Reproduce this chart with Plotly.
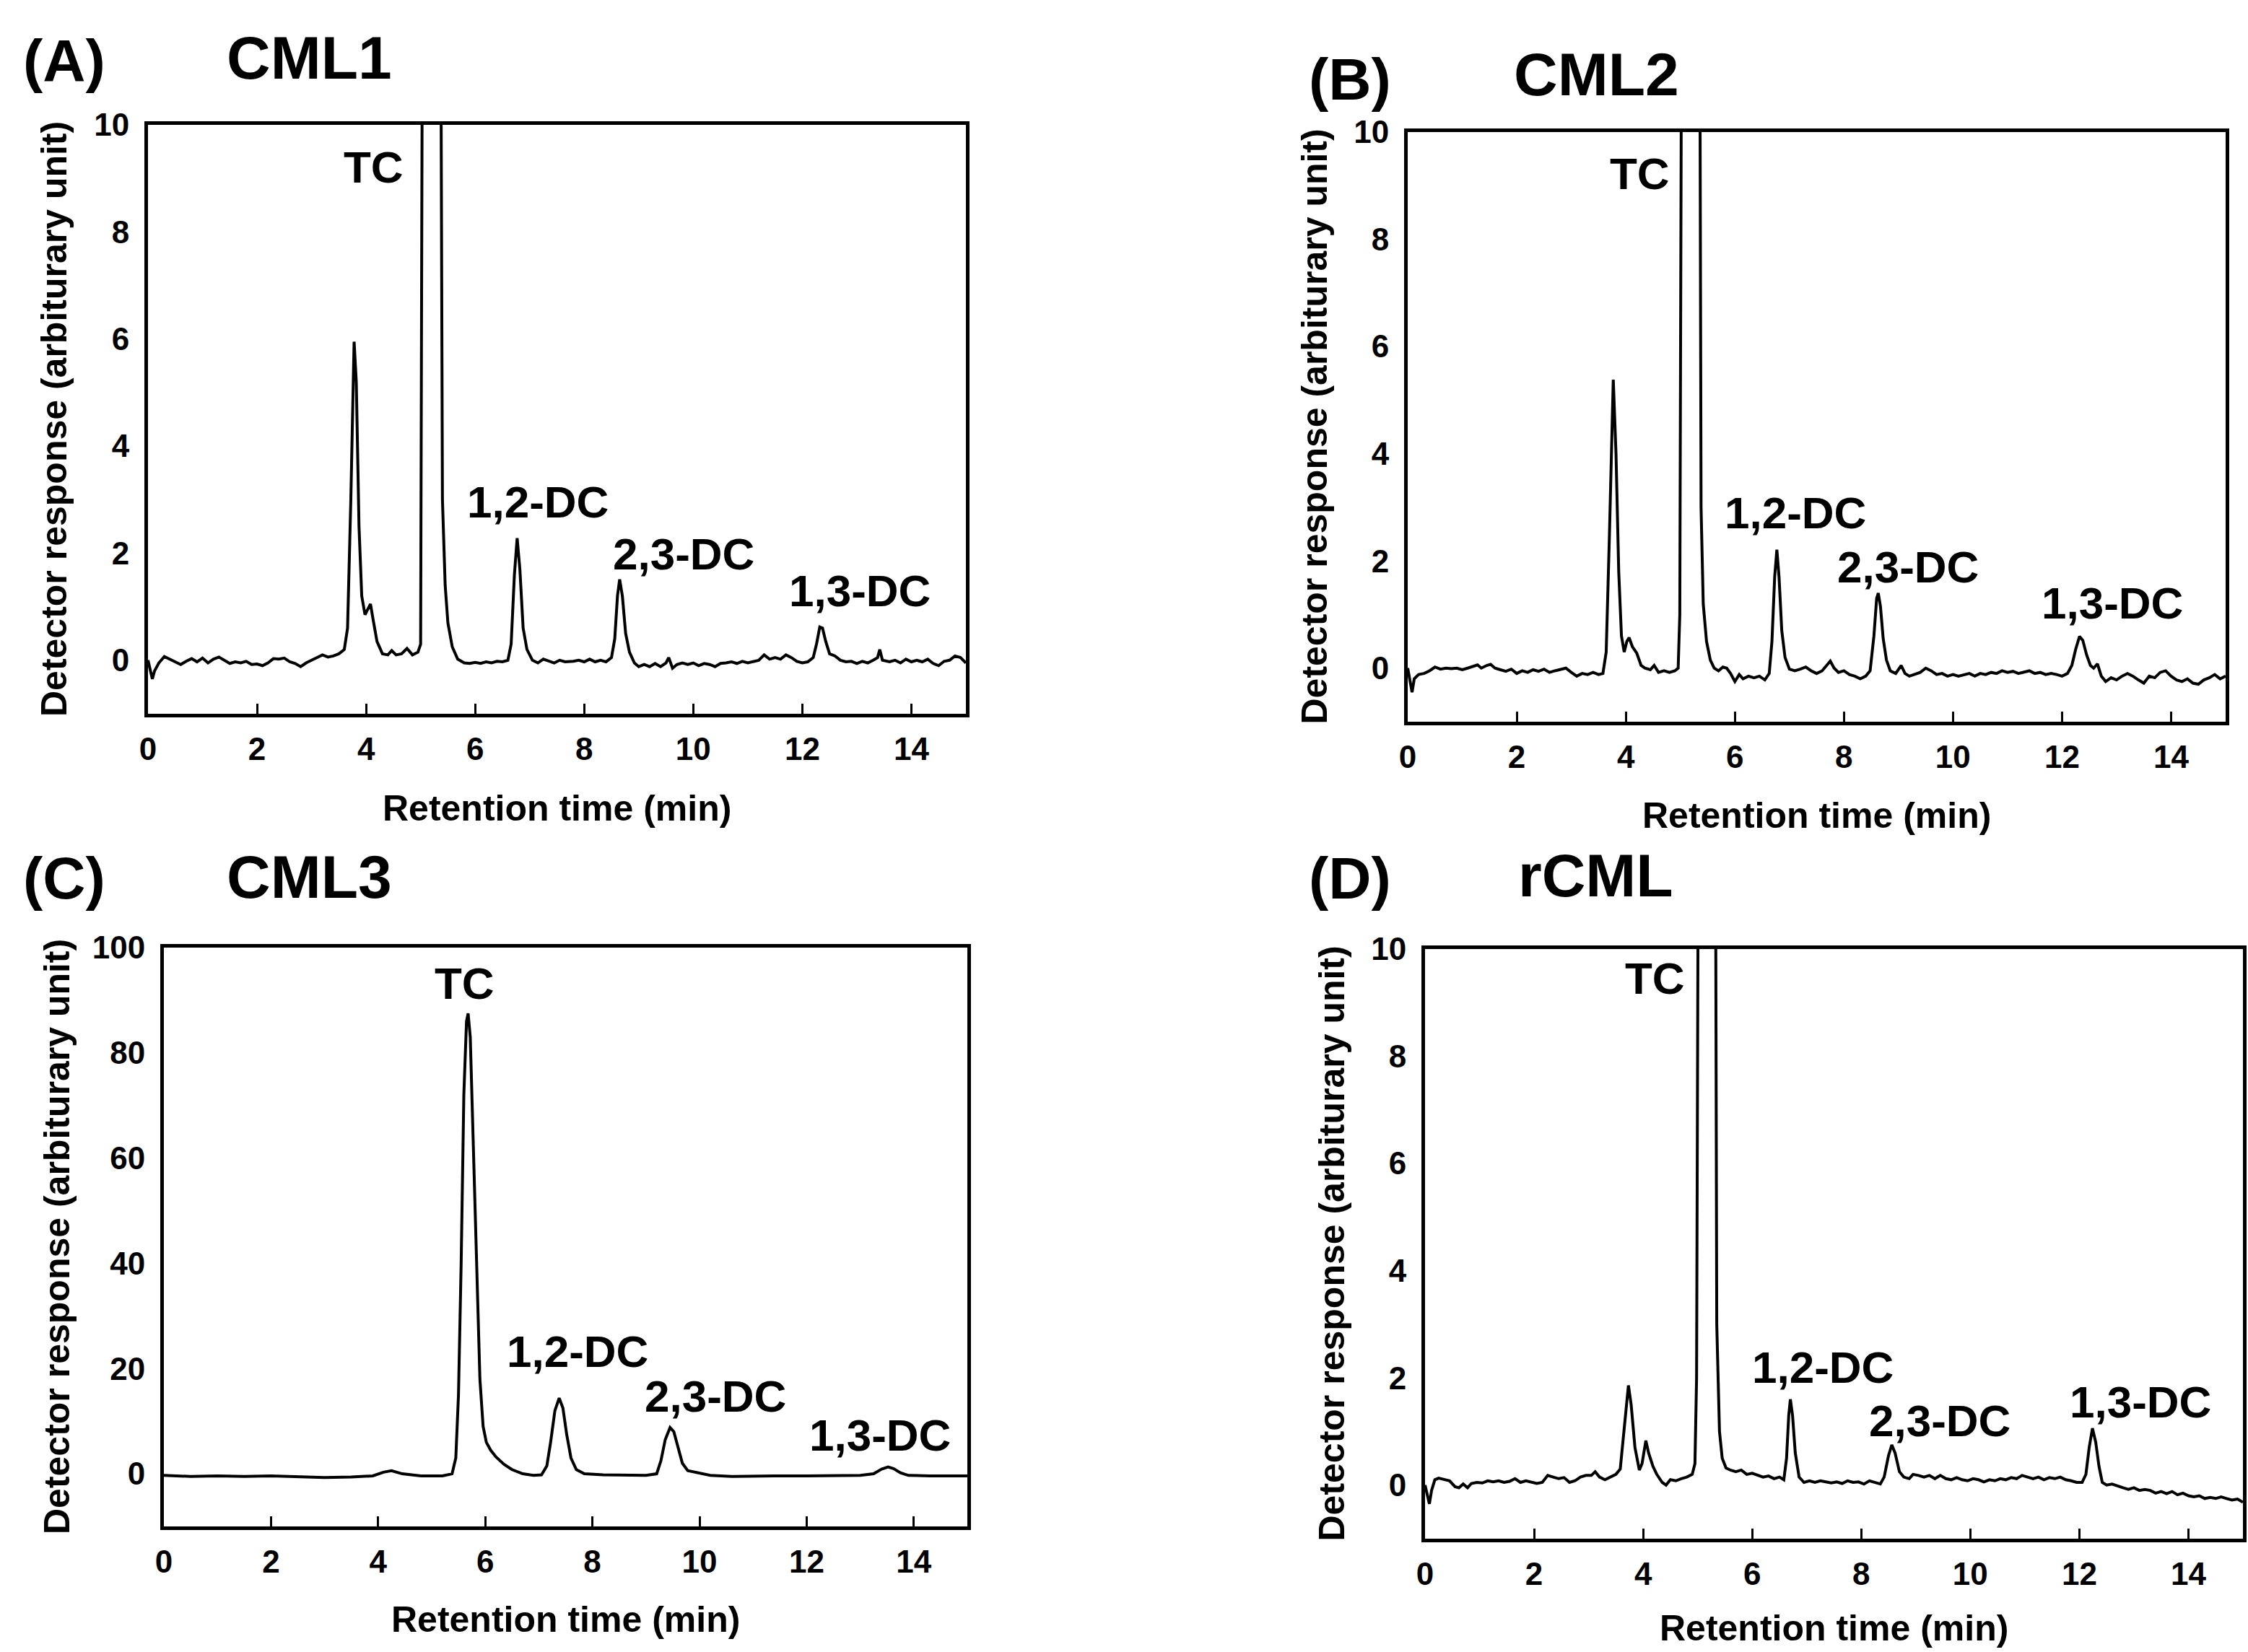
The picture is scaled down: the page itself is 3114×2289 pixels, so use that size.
import plotly.graph_objects as go

# ---------------- DATA ----------------
time_A = [0.00, 0.05, 0.08, 0.12, 0.20, 0.30, 0.40, 0.50, 0.60, 0.70, 0.80, 0.90, 1.00, 1.10, 1.20, 1.30, 1.40,
          1.50, 1.60, 1.70, 1.80, 1.90, 2.00, 2.10, 2.20, 2.30, 2.40, 2.50, 2.60, 2.70, 2.80, 2.90, 3.00, 3.10,
          3.20, 3.30, 3.40, 3.50, 3.60, 3.66, 3.72, 3.78, 3.82, 3.87, 3.92, 3.98, 4.03, 4.08, 4.13, 4.20, 4.30,
          4.40, 4.47, 4.55, 4.65, 4.75, 4.85, 4.95, 5.00, 5.04, 5.20, 5.36, 5.40, 5.45, 5.50, 5.58, 5.68, 5.80,
          5.90, 6.00, 6.10, 6.20, 6.30, 6.40, 6.50, 6.60, 6.66, 6.72, 6.77, 6.82, 6.88, 6.95, 7.05, 7.15, 7.25,
          7.35, 7.45, 7.55, 7.65, 7.80, 7.90, 8.00, 8.10, 8.20, 8.30, 8.40, 8.50, 8.56, 8.61, 8.65, 8.70, 8.76,
          8.83, 8.92, 9.00, 9.10, 9.20, 9.30, 9.40, 9.50, 9.55, 9.62, 9.70, 9.80, 9.90, 10.00, 10.10, 10.20,
          10.30, 10.40, 10.50, 10.60, 10.70, 10.80, 10.90, 11.00, 11.10, 11.20, 11.30, 11.40, 11.50, 11.60,
          11.70, 11.80, 11.90, 12.00, 12.10, 12.20, 12.26, 12.32, 12.37, 12.43, 12.50, 12.60, 12.70, 12.80,
          12.90, 13.00, 13.10, 13.20, 13.30, 13.38, 13.42, 13.47, 13.60, 13.70, 13.80, 13.90, 14.00, 14.10,
          14.20, 14.30, 14.40, 14.50, 14.60, 14.70, 14.80, 14.90, 15.00]
resp_A = [0.00, -0.20, -0.35, -0.20, -0.05, 0.07, 0.02, -0.02, -0.08, -0.02, 0.03, -0.03, 0.04, -0.05, 0.02, 0.06,
          0.00, -0.06, -0.03, -0.05, -0.02, -0.08, -0.07, -0.10, -0.05, 0.03, 0.02, 0.04, -0.03, -0.06, -0.12,
          -0.05, 0.00, 0.05, 0.10, 0.06, 0.08, 0.12, 0.20, 0.60, 3.00, 5.95, 5.20, 2.50, 1.20, 0.85, 0.95, 1.05,
          0.75, 0.35, 0.12, 0.10, 0.18, 0.10, 0.12, 0.22, 0.10, 0.15, 0.30, 15.0, 40.0, 15.0, 3.00, 1.40, 0.70,
          0.25, 0.02, -0.05, -0.06, -0.04, -0.06, -0.03, -0.05, -0.02, -0.03, 0.00, 0.30, 1.60, 2.28, 1.70, 0.60,
          0.20, 0.00, -0.05, 0.02, -0.02, -0.05, 0.00, -0.03, -0.02, 0.00, -0.03, 0.02, -0.03, 0.00, -0.03, 0.05,
          0.40, 1.20, 1.51, 1.20, 0.50, 0.15, -0.05, -0.12, -0.08, -0.12, -0.06, -0.12, -0.05, 0.05, -0.15, -0.08,
          -0.05, -0.08, -0.05, -0.10, -0.06, -0.08, -0.12, -0.06, -0.05, -0.03, -0.06, -0.02, -0.05, -0.02, 0.00,
          0.10, 0.02, 0.05, 0.02, 0.10, 0.05, -0.02, -0.05, -0.03, 0.05, 0.30, 0.62, 0.60, 0.35, 0.12, 0.08, 0.00,
          -0.03, -0.02, -0.06, -0.02, -0.05, 0.00, 0.05, 0.20, 0.00, -0.03, 0.00, -0.05, 0.02, -0.03, 0.00, -0.03,
          0.02, -0.06, -0.10, -0.02, 0.00, 0.08, 0.05, -0.05]

time_B = [0.00, 0.05, 0.08, 0.12, 0.20, 0.30, 0.40, 0.50, 0.60, 0.70, 0.80, 0.90, 1.00, 1.10, 1.20, 1.28, 1.35,
          1.45, 1.52, 1.60, 1.70, 1.80, 1.90, 2.00, 2.10, 2.20, 2.30, 2.40, 2.50, 2.60, 2.70, 2.80, 2.90, 3.00,
          3.10, 3.20, 3.30, 3.40, 3.50, 3.58, 3.64, 3.70, 3.77, 3.82, 3.87, 3.92, 3.97, 4.02, 4.06, 4.12, 4.20,
          4.28, 4.35, 4.45, 4.52, 4.60, 4.70, 4.80, 4.90, 4.96, 4.99, 5.03, 5.18, 5.35, 5.38, 5.42, 5.48, 5.55,
          5.62, 5.70, 5.78, 5.85, 5.92, 6.00, 6.08, 6.15, 6.25, 6.35, 6.45, 6.55, 6.63, 6.68, 6.73, 6.77, 6.81,
          6.86, 6.92, 7.00, 7.10, 7.20, 7.30, 7.40, 7.50, 7.60, 7.68, 7.75, 7.82, 7.90, 8.00, 8.10, 8.20, 8.30,
          8.40, 8.48, 8.55, 8.60, 8.63, 8.67, 8.72, 8.78, 8.85, 8.95, 9.05, 9.12, 9.20, 9.30, 9.40, 9.50, 9.60,
          9.70, 9.80, 9.90, 10.00, 10.10, 10.20, 10.30, 10.40, 10.50, 10.60, 10.70, 10.80, 10.90, 11.00, 11.10,
          11.20, 11.30, 11.40, 11.50, 11.60, 11.70, 11.80, 11.90, 12.00, 12.10, 12.18, 12.25, 12.32, 12.38,
          12.45, 12.52, 12.58, 12.65, 12.72, 12.80, 12.90, 13.00, 13.10, 13.20, 13.30, 13.40, 13.50, 13.60,
          13.70, 13.80, 13.90, 14.00, 14.10, 14.20, 14.30, 14.40, 14.50, 14.60, 14.70, 14.80, 14.90, 15.00]
resp_B = [0.00, -0.25, -0.45, -0.20, -0.12, -0.10, -0.05, 0.02, -0.02, 0.00, -0.01, 0.00, -0.03, 0.00, 0.03, 0.06,
          0.00, 0.05, 0.07, 0.00, -0.03, -0.06, -0.02, -0.10, -0.05, -0.08, -0.03, -0.06, -0.02, -0.08, -0.05,
          -0.03, 0.00, -0.08, -0.15, -0.10, -0.12, -0.08, -0.12, -0.10, 0.30, 2.50, 5.38, 4.00, 1.80, 0.60, 0.30,
          0.50, 0.57, 0.40, 0.28, 0.05, 0.00, -0.03, 0.05, -0.08, -0.05, -0.08, -0.05, 0.00, 1.00, 15.0, 40.0,
          15.0, 3.00, 1.20, 0.50, 0.15, 0.00, -0.05, 0.02, 0.00, -0.10, -0.25, -0.12, -0.20, -0.15, -0.18, -0.15,
          -0.22, -0.10, 0.50, 1.70, 2.21, 1.70, 0.70, 0.20, -0.02, -0.05, -0.02, 0.02, -0.05, -0.10, -0.05, 0.05,
          0.13, 0.00, -0.08, -0.05, -0.12, -0.15, -0.20, -0.15, -0.05, 0.60, 1.30, 1.40, 1.15, 0.55, 0.15, -0.05,
          -0.10, 0.05, -0.10, -0.15, -0.12, -0.08, 0.00, -0.05, -0.12, -0.10, -0.15, -0.12, -0.15, -0.12, -0.10,
          -0.15, -0.10, -0.12, -0.08, -0.10, -0.05, -0.08, -0.06, -0.10, -0.08, -0.05, -0.10, -0.08, -0.12, -0.10,
          -0.12, -0.15, -0.10, 0.05, 0.35, 0.59, 0.52, 0.25, 0.05, 0.00, 0.08, -0.15, -0.25, -0.18, -0.22, -0.15,
          -0.10, -0.15, -0.22, -0.28, -0.15, -0.18, -0.08, -0.05, -0.15, -0.22, -0.25, -0.20, -0.28, -0.30, -0.22,
          -0.18, -0.12, -0.20, -0.15]

time_C = [0.0, 0.5, 1.0, 1.5, 2.0, 2.5, 3.0, 3.5, 3.9, 4.1, 4.25, 4.45, 4.8, 5.2, 5.38, 5.45, 5.50, 5.55, 5.60,
          5.65, 5.68, 5.72, 5.77, 5.83, 5.90, 5.96, 6.02, 6.10, 6.20, 6.35, 6.50, 6.70, 6.90, 7.05, 7.15, 7.22,
          7.30, 7.38, 7.45, 7.52, 7.60, 7.70, 7.85, 8.2, 8.6, 9.0, 9.20, 9.28, 9.36, 9.45, 9.52, 9.60, 9.68, 9.78,
          9.95, 10.2, 10.6, 11.0, 11.4, 12.0, 12.5, 13.0, 13.25, 13.40, 13.52, 13.62, 13.75, 13.9, 14.3, 14.7,
          15.0]
resp_C = [-0.3, -0.5, -0.4, -0.5, -0.4, -0.6, -0.7, -0.6, -0.4, 0.3, 0.6, 0.0, -0.4, -0.4, 0.0, 3.0, 15.0, 40.0,
          72.0, 86.0, 87.5, 83.0, 65.0, 40.0, 18.0, 9.0, 6.0, 4.5, 3.2, 1.8, 0.8, 0.0, -0.3, -0.2, 1.5, 6.0, 12.0,
          14.4, 12.5, 7.5, 3.0, 0.8, 0.0, -0.2, -0.3, -0.3, 0.0, 2.5, 6.5, 8.8, 8.0, 5.0, 2.0, 0.6, 0.2, -0.3,
          -0.5, -0.4, -0.4, -0.4, -0.3, -0.3, 0.0, 0.9, 1.3, 1.0, 0.2, -0.3, -0.4, -0.4, -0.4]

time_D = [0.00, 0.05, 0.08, 0.12, 0.18, 0.25, 0.35, 0.45, 0.55, 0.62, 0.70, 0.78, 0.85, 0.95, 1.05, 1.15, 1.25,
          1.35, 1.45, 1.55, 1.65, 1.75, 1.85, 1.95, 2.05, 2.15, 2.25, 2.35, 2.45, 2.55, 2.65, 2.75, 2.85, 2.95,
          3.05, 3.12, 3.20, 3.30, 3.40, 3.50, 3.58, 3.65, 3.73, 3.78, 3.85, 3.93, 3.98, 4.05, 4.10, 4.18, 4.25,
          4.35, 4.42, 4.50, 4.60, 4.70, 4.80, 4.90, 4.95, 4.98, 5.02, 5.16, 5.32, 5.35, 5.40, 5.45, 5.52, 5.60,
          5.70, 5.80, 5.90, 6.00, 6.10, 6.20, 6.30, 6.40, 6.50, 6.58, 6.63, 6.67, 6.70, 6.74, 6.79, 6.86, 6.95,
          7.05, 7.15, 7.25, 7.35, 7.45, 7.55, 7.65, 7.75, 7.85, 7.95, 8.05, 8.15, 8.25, 8.35, 8.42, 8.50, 8.56,
          8.62, 8.70, 8.78, 8.88, 8.95, 9.05, 9.15, 9.25, 9.35, 9.45, 9.55, 9.65, 9.75, 9.85, 9.95, 10.05,
          10.15, 10.25, 10.35, 10.45, 10.55, 10.65, 10.75, 10.85, 10.95, 11.05, 11.15, 11.25, 11.35, 11.45,
          11.55, 11.65, 11.75, 11.85, 11.95, 12.05, 12.12, 12.18, 12.24, 12.30, 12.36, 12.42, 12.50, 12.60,
          12.70, 12.80, 12.90, 13.00, 13.10, 13.20, 13.30, 13.40, 13.50, 13.60, 13.70, 13.80, 13.90, 14.00,
          14.10, 14.20, 14.30, 14.40, 14.50, 14.60, 14.70, 14.80, 14.90, 15.00]
resp_D = [0.00, -0.20, -0.35, -0.10, 0.10, 0.13, 0.10, 0.08, -0.03, -0.05, 0.02, -0.05, 0.03, 0.05, 0.04, 0.08,
          0.06, 0.08, 0.05, 0.07, 0.12, 0.05, 0.08, 0.05, 0.03, 0.05, 0.18, 0.15, 0.12, 0.14, 0.05, 0.08, 0.15,
          0.18, 0.18, 0.25, 0.15, 0.10, 0.15, 0.20, 0.30, 1.00, 1.86, 1.50, 0.70, 0.28, 0.40, 0.83, 0.60, 0.35,
          0.20, 0.05, 0.00, 0.10, 0.08, 0.12, 0.15, 0.20, 0.40, 2.00, 15.0, 40.0, 15.0, 3.00, 1.00, 0.50, 0.32,
          0.28, 0.25, 0.28, 0.20, 0.22, 0.18, 0.15, 0.17, 0.12, 0.15, 0.10, 0.50, 1.30, 1.60, 1.30, 0.60, 0.15,
          0.05, 0.08, 0.05, 0.08, 0.06, 0.04, 0.06, 0.03, 0.08, 0.05, 0.06, 0.02, 0.08, 0.05, 0.02, 0.15, 0.55,
          0.75, 0.60, 0.25, 0.15, 0.12, 0.20, 0.18, 0.15, 0.18, 0.12, 0.18, 0.12, 0.10, 0.14, 0.10, 0.08, 0.12,
          0.10, 0.06, 0.10, 0.08, 0.12, 0.10, 0.14, 0.12, 0.18, 0.15, 0.12, 0.15, 0.10, 0.14, 0.12, 0.15, 0.10,
          0.08, 0.05, 0.05, 0.20, 0.70, 1.06, 0.80, 0.35, 0.05, 0.00, 0.02, -0.02, -0.05, -0.08, -0.05, -0.10,
          -0.08, -0.10, -0.15, -0.12, -0.16, -0.12, -0.18, -0.15, -0.20, -0.22, -0.20, -0.25, -0.23, -0.25,
          -0.22, -0.25, -0.28, -0.26, -0.32]

panel_letters = ["(A)", "(B)", "(C)", "(D)"]
panel_names = ["CML1", "CML2", "CML3", "rCML"]
peak_names = ["TC", "1,2-DC", "2,3-DC", "1,3-DC"]
x_ticks = [0, 2, 4, 6, 8, 10, 12, 14]
x_title = "Retention time (min)"
y_title = "Detector response (arbiturary unit)"

# ---------------- LAYOUT (pixel geometry) ----------------
W, H = 3114, 2289
FONT = "Liberation Sans, Arial, Helvetica, sans-serif"

panels = [
    dict(t=time_A, r=resp_A, box=(205, 173, 1338, 989), yr=[-1, 10], dy=2,
         letter=(30, 83), name=(312, 80), xt=1120, yt=75,
         peaks=[(4.14, 9.21), (7.15, 2.95), (9.82, 1.99), (13.06, 1.30)]),
    dict(t=time_B, r=resp_B, box=(1950, 183, 3083, 1000), yr=[-1, 10], dy=2,
         letter=(1811, 109), name=(2095, 103), xt=1130, yt=1821,
         peaks=[(4.26, 9.22), (7.11, 2.90), (9.18, 1.89), (12.92, 1.22)]),
    dict(t=time_C, r=resp_C, box=(227, 1313, 1340, 2115), yr=[-10, 100], dy=20,
         letter=(30, 1217), name=(312, 1215), xt=2244, yt=79,
         peaks=[(5.61, 93.2), (7.72, 23.2), (10.3, 14.8), (13.37, 7.3)]),
    dict(t=time_D, r=resp_D, box=(1974, 1315, 3107, 2132), yr=[-1, 10], dy=2,
         letter=(1811, 1217), name=(2101, 1213), xt=2256, yt=1844,
         peaks=[(4.22, 9.46), (7.30, 2.20), (9.44, 1.20), (13.12, 1.55)]),
]

fig = go.Figure()
annotations = []
layout = {}

for i, p in enumerate(panels):
    k = "" if i == 0 else str(i + 1)
    xa, ya = "x" + k, "y" + k
    x0, y0, x1, y1 = p["box"]
    fig.add_trace(go.Scatter(x=p["t"], y=p["r"], mode="lines",
                             line=dict(color="black", width=4),
                             xaxis=xa, yaxis=ya, showlegend=False,
                             name=panel_names[i]))
    layout["xaxis" + k] = dict(
        domain=[x0 / W, x1 / W], anchor=ya, range=[0, 15], automargin=False,
        tickvals=x_ticks, ticks="inside", ticklen=14, tickwidth=3, tickcolor="black",
        showline=True, linecolor="black", linewidth=5, mirror=True,
        showgrid=False, zeroline=False, ticklabelstandoff=6,
        tickfont=dict(family=FONT, size=44, color="black", weight="bold"))
    layout["yaxis" + k] = dict(
        domain=[1 - y1 / H, 1 - y0 / H], anchor=xa, range=p["yr"], automargin=False,
        tick0=0, dtick=p["dy"], ticks="", showline=True, linecolor="black",
        linewidth=5, mirror=True, showgrid=False, zeroline=False,
        ticklabelstandoff=12,
        tickfont=dict(family=FONT, size=44, color="black", weight="bold"))

    annotations.append(dict(text=x_title, xref="paper", yref="paper",
                            x=(x0 + x1) / 2 / W, y=1 - p["xt"] / H,
                            xanchor="center", yanchor="middle", showarrow=False,
                            font=dict(family=FONT, size=50, color="black", weight="bold")))
    annotations.append(dict(text=y_title, xref="paper", yref="paper",
                            x=p["yt"] / W, y=1 - (y0 + y1) / 2 / H, textangle=-90,
                            xanchor="center", yanchor="middle", showarrow=False,
                            font=dict(family=FONT, size=50, color="black", weight="bold")))
    annotations.append(dict(text=panel_letters[i], xref="paper", yref="paper",
                            x=p["letter"][0] / W, y=1 - p["letter"][1] / H,
                            xanchor="left", yanchor="middle", showarrow=False,
                            font=dict(family=FONT, size=82, color="black", weight="bold")))
    annotations.append(dict(text=panel_names[i], xref="paper", yref="paper",
                            x=p["name"][0] / W, y=1 - p["name"][1] / H,
                            xanchor="left", yanchor="middle", showarrow=False,
                            font=dict(family=FONT, size=84, color="black", weight="bold")))
    for name, (px, py) in zip(peak_names, p["peaks"]):
        annotations.append(dict(text=name, xref=xa, yref=ya, x=px, y=py,
                                xanchor="center", yanchor="middle", showarrow=False,
                                font=dict(family=FONT, size=62, color="black", weight="bold")))

fig.update_layout(width=W, height=H,
                  margin=dict(l=0, r=0, t=0, b=0, pad=0, autoexpand=False),
                  paper_bgcolor="white", plot_bgcolor="white",
                  annotations=annotations, **layout)

fig.write_html("out.html",
               config={"displayModeBar": False},
               post_script="document.documentElement.style.margin='0';"
                           "document.documentElement.style.overflow='hidden';"
                           "document.body.style.margin='0';"
                           "document.body.style.overflow='hidden';"
                           "var gd=document.getElementById('{plot_id}');"
                           "gd.style.position='fixed';gd.style.left='0px';gd.style.top='0px';")
